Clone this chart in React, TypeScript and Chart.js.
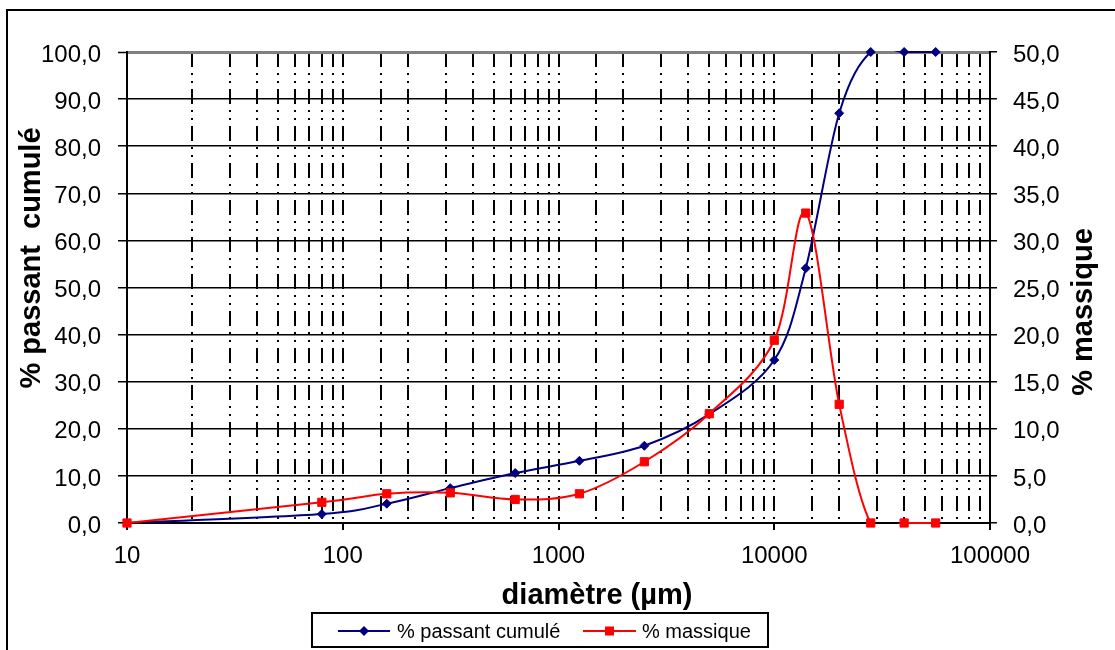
import React, { useEffect, useRef } from 'react';
import { Chart, registerables } from 'chart.js';

Chart.register(...registerables);

// ---- data ----
const diameters = [10, 80, 160, 315, 630, 1250, 2500, 5000, 10000, 14000, 20000, 28000, 40000, 56000];
const passantCumule = [0, 1.9, 4.1, 7.4, 10.6, 13.2, 16.4, 23.1, 34.6, 54.1, 87.0, 100, 100, 100];
const massique = [0, 2.2, 3.1, 3.2, 2.5, 3.1, 6.5, 11.6, 19.4, 32.9, 12.6, 0, 0, 0];
const xMajorTicks = [10, 100, 1000, 10000, 100000];
const seriesNames = ['% passant cumulé', '% massique'];
const xTitle = 'diamètre (µm)';
const yTitle = '% passant  cumulé';
const y1Title = '% massique';

const BLUE = '#000080';
const RED = '#FF0000';
const FONT = "'Liberation Sans', Arial, Helvetica, sans-serif";

const isMajor = (v: number) => xMajorTicks.some((m) => Math.abs(m - v) < 1e-6 * m);
const fmt = (v: number) => Number(v).toFixed(1).replace('.', ',');

function drawMarker(ctx: CanvasRenderingContext2D, style: string, x: number, y: number, color: string) {
  ctx.save();
  ctx.fillStyle = color;
  ctx.beginPath();
  if (style === 'diamond') {
    const r = 5;
    ctx.moveTo(x, y - r);
    ctx.lineTo(x + r, y);
    ctx.lineTo(x, y + r);
    ctx.lineTo(x - r, y);
    ctx.closePath();
  } else {
    ctx.rect(x - 4.5, y - 4.5, 9, 9);
  }
  ctx.fill();
  ctx.restore();
}

// Spreadsheet-style smoothing: control points at +/- (next - prev) / 6 of the library's pixel positions
const smoothPlugin = {
  id: 'spreadsheetSmooth',
  beforeDatasetDraw(chart: any, args: any) {
    const meta = args.meta;
    const ds = chart.data.datasets[args.index];
    if (!meta || !meta.dataset || ds.showLine === false) return;
    const line = meta.dataset;
    line.updateControlPoints(chart.chartArea, meta.indexAxis);
    const pts = meta.data;
    for (let i = 0; i < pts.length; i++) {
      const p = pts[i];
      const prev = pts[i - 1] || p;
      const next = pts[i + 1] || p;
      const dx = (next.x - prev.x) / 6;
      const dy = (next.y - prev.y) / 6;
      p.cp1x = p.x - dx;
      p.cp1y = p.y - dy;
      p.cp2x = p.x + dx;
      p.cp2y = p.y + dy;
    }
  },
};

const decorPlugin = {
  id: 'decor',
  beforeDraw(chart: any) {
    const ctx = chart.ctx as CanvasRenderingContext2D;
    ctx.save();
    ctx.fillStyle = '#fff';
    ctx.fillRect(0, 0, chart.width, chart.height);
    ctx.strokeStyle = '#000';
    ctx.lineWidth = 2;
    ctx.strokeRect(7, 10, chart.width + 20, chart.height + 20);
    ctx.restore();
  },
  afterDraw(chart: any) {
    const ctx = chart.ctx as CanvasRenderingContext2D;
    ctx.save();
    ctx.fillStyle = '#000';
    ctx.font = `bold 29px ${FONT}`;
    ctx.textAlign = 'center';
    ctx.textBaseline = 'alphabetic';
    ctx.fillText(xTitle, 597, 604);

    ctx.save();
    ctx.translate(40, 258);
    ctx.rotate(-Math.PI / 2);
    ctx.fillText(yTitle, 0, 0);
    ctx.restore();

    ctx.save();
    ctx.translate(1092, 312);
    ctx.rotate(-Math.PI / 2);
    ctx.fillText(y1Title, 0, 0);
    ctx.restore();

    // legend
    ctx.lineWidth = 2;
    ctx.strokeStyle = '#000';
    ctx.strokeRect(312, 613, 456, 34);
    const items = [
      { name: seriesNames[0], color: BLUE, style: 'diamond', x0: 338, x1: 390, tx: 397 },
      { name: seriesNames[1], color: RED, style: 'square', x0: 583, x1: 636, tx: 642 },
    ];
    ctx.font = `20px ${FONT}`;
    ctx.textAlign = 'left';
    for (const it of items) {
      ctx.strokeStyle = it.color;
      ctx.lineWidth = 2;
      ctx.beginPath();
      ctx.moveTo(it.x0, 631);
      ctx.lineTo(it.x1, 631);
      ctx.stroke();
      drawMarker(ctx, it.style, (it.x0 + it.x1) / 2, 631, it.color);
      ctx.fillStyle = '#000';
      ctx.fillText(it.name, it.tx, 638);
    }
    ctx.restore();
  },
};

export default function App() {
  const ref = useRef<HTMLCanvasElement | null>(null);

  useEffect(() => {
    if (!ref.current) return;
    const bluePts = diameters.map((d, i) => ({ x: d, y: passantCumule[i] }));
    const redPts = diameters.map((d, i) => ({ x: d, y: massique[i] }));

    const chart = new Chart(ref.current, {
      type: 'line',
      data: {
        datasets: [
          {
            label: seriesNames[1] + ' points',
            data: redPts,
            yAxisID: 'y1',
            showLine: false,
            pointStyle: 'rect',
            pointRadius: 5.8,
            pointBorderWidth: 1,
            pointBackgroundColor: RED,
            pointBorderColor: RED,
            clip: false,
          } as any,
          {
            label: seriesNames[1],
            data: redPts,
            yAxisID: 'y1',
            borderColor: RED,
            borderWidth: 2,
            pointRadius: 0,
            tension: 0.4,
            capBezierPoints: false,
            clip: { left: 0, right: 0, top: 0, bottom: 1 },
          } as any,
          {
            label: seriesNames[0] + ' points',
            data: bluePts,
            yAxisID: 'y',
            showLine: false,
            pointStyle: 'rectRot',
            pointRadius: 4.5,
            pointBorderWidth: 1,
            pointBackgroundColor: BLUE,
            pointBorderColor: BLUE,
            clip: false,
          } as any,
          {
            label: seriesNames[0],
            data: bluePts,
            yAxisID: 'y',
            borderColor: BLUE,
            borderWidth: 2,
            pointRadius: 0,
            tension: 0.4,
            capBezierPoints: false,
            clip: { left: 0, right: 0, top: 1, bottom: 0 },
          } as any,
        ],
      },
      options: {
        responsive: false,
        animation: false,
        devicePixelRatio: 1,
        events: [],
        layout: { padding: { top: 52, left: 0, right: 0, bottom: 0 } },
        plugins: {
          legend: { display: false },
          tooltip: { enabled: false },
          title: { display: false },
        },
        scales: {
          x: {
            type: 'logarithmic',
            position: 'bottom',
            min: 10,
            max: 100000,
            afterFit: (s: any) => {
              s.height = 127;
            },
            ticks: {
              autoSkip: false,
              maxRotation: 0,
              minRotation: 0,
              color: '#000',
              padding: 12,
              font: { family: FONT, size: 24 },
              callback: (v: any) => (isMajor(Number(v)) ? String(Number(v)) : ''),
            },
            grid: {
              color: (c: any) => (c.tick && Math.abs(c.tick.value - 10) < 1e-6 ? 'rgba(0,0,0,0)' : '#000'),
              lineWidth: 2,
              tickLength: 7,
              tickWidth: 2,
              tickColor: (c: any) => (c.tick && isMajor(c.tick.value) ? '#000' : 'rgba(0,0,0,0)'),
            },
            border: { display: true, color: '#000', width: 2, dash: [15, 6, 2, 6, 2, 6] },
          },
          y: {
            type: 'linear',
            position: 'left',
            min: 0,
            max: 100,
            afterFit: (s: any) => {
              s.width = 127;
            },
            ticks: {
              stepSize: 10,
              color: '#000',
              padding: 17,
              labelOffset: 3,
              font: { family: FONT, size: 24 },
              callback: (v: any) => fmt(v),
            },
            grid: {
              color: (c: any) => (c.tick && c.tick.value === 100 ? '#808080' : '#000'),
              lineWidth: (c: any) => (c.tick && c.tick.value === 100 ? 3 : 1.5),
              tickLength: 9,
              tickWidth: 1.5,
              tickColor: '#000',
            },
            border: { display: true, color: '#000', width: 2 },
          },
          y1: {
            type: 'linear',
            position: 'right',
            min: 0,
            max: 50,
            afterFit: (s: any) => {
              s.width = 125;
            },
            ticks: {
              stepSize: 5,
              color: '#000',
              padding: 16,
              labelOffset: 3,
              font: { family: FONT, size: 24 },
              callback: (v: any) => fmt(v),
            },
            grid: {
              drawOnChartArea: false,
              tickLength: 7,
              lineWidth: 1.5,
              color: '#000',
            },
            border: { display: true, color: '#000', width: 2 },
          },
        },
      } as any,
      plugins: [smoothPlugin, decorPlugin],
    });
    return () => chart.destroy();
  }, []);

  return (
    <div style={{ position: 'fixed', left: 0, top: 0, width: 1115, height: 650, background: '#fff' }}>
      <canvas ref={ref} width={1115} height={650} style={{ display: 'block', width: 1115, height: 650 }} />
    </div>
  );
}
